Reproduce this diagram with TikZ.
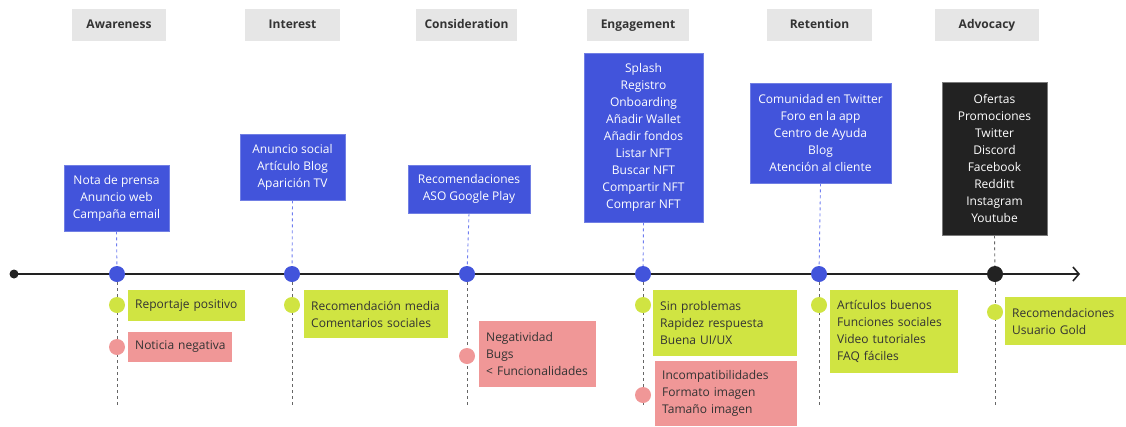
\documentclass[tikz,border=0pt]{standalone}
\usepackage{fontspec}
\setmainfont{Open Sans}
\usetikzlibrary{arrows.meta,backgrounds}
\definecolor{jblue}{HTML}{4254DB}
\definecolor{jblueline}{HTML}{6E7DF0}
\definecolor{jgreen}{HTML}{D0E442}
\definecolor{jred}{HTML}{F09797}
\definecolor{jhead}{HTML}{E6E6E6}
\definecolor{jdark}{HTML}{222222}
\definecolor{jtext}{HTML}{333333}
\definecolor{jgray}{HTML}{666666}
\hyphenpenalty=10000
\exhyphenpenalty=10000
\hfuzz=20pt
\tikzset{
  txt/.style={font=\fontsize{12}{17}\selectfont},
  head/.style={fill=jhead, text=jtext, font=\bfseries\fontsize{12}{14}\selectfont,
    minimum height=32, inner sep=0, text height=9, text depth=3},
  chanbox/.style={fill=jblue, draw=jblue!75!white, line width=0.6, text=white, txt,
    align=center, inner sep=0},
  darkbox/.style={chanbox, fill=jdark, draw=jdark!60!white},
  notebox/.style={txt, text=jtext, align=left, inner xsep=7, inner ysep=0, anchor=west},
  goodbox/.style={notebox, fill=jgreen},
  badbox/.style={notebox, fill=jred},
  stagedot/.style={circle, fill=jblue, minimum size=16, inner sep=0},
  gooddot/.style={circle, fill=jgreen, minimum size=16, inner sep=0},
  baddot/.style={circle, fill=jred, minimum size=16, inner sep=0},
  updash/.style={draw=jblueline, line width=0.9, dash pattern=on 3 off 3},
  downdash/.style={draw=jgray, line width=0.9, dash pattern=on 3 off 3},
}
\begin{document}
\begin{tikzpicture}[x=1pt, y=-1pt]
\useasboundingbox (0,0) rectangle (1126,426);

% stage headers
\node[head, minimum width=94]  (hAw) at (119,25)   {Awareness};
\node[head, minimum width=95]  (hIn) at (292.5,25) {Interest};
\node[head, minimum width=101] (hCo) at (466.5,25) {Consideration};
\node[head, minimum width=102] (hEn) at (638,25)   {Engagement};
\node[head, minimum width=105] (hRe) at (819.5,25) {Retention};
\node[head, minimum width=104] (hAd) at (987,25)   {Advocacy};

% channel boxes
\node[chanbox, minimum width=105, minimum height=66]  (cAw) at (116.5,198) {Nota de prensa\\Anuncio web\\Campaña email};
\node[chanbox, minimum width=105, minimum height=66]  (cIn) at (292.5,167) {Anuncio social\\Artículo Blog\\Aparición TV};
\node[chanbox, minimum width=122, minimum height=48]  (cCo) at (469,189)   {Recomendaciones\\ASO Google Play};
\node[chanbox, minimum width=119, minimum height=169] (cEn) at (643.5,137.5) {Splash\\Registro\\Onboarding\\Añadir Wallet\\Añadir fondos\\Listar NFT\\Buscar NFT\\Compartir NFT\\Comprar NFT};
\node[chanbox, minimum width=141, minimum height=100] (cRe) at (820.5,133) {Comunidad en Twitter\\Foro en la app\\Centro de Ayuda\\Blog\\Atención al cliente};
\node[darkbox, minimum width=105, minimum height=153] (cAd) at (994.5,158.5) {Ofertas\\Promociones\\Twitter\\Discord\\Facebook\\Redditt\\Instagram\\Youtube};

% timeline
\node[circle, fill=jdark, minimum size=9, inner sep=0] (start) at (14,274) {};
\coordinate (finish) at (1080,274);

\node[stagedot] (sAw) at (117,274) {};
\node[stagedot] (sIn) at (292,274) {};
\node[stagedot] (sCo) at (467,274) {};
\node[stagedot] (sEn) at (643,274) {};
\node[stagedot] (sRe) at (819,274) {};
\node[stagedot, fill=jdark] (sAd) at (995,274) {};

% lower ends of the stage guides
\coordinate (eAw) at (117,406);
\coordinate (eIn) at (292,406);
\coordinate (eCo) at (467,406);
\coordinate (eEn) at (643,406);
\coordinate (eRe) at (819,406);
\coordinate (eAd) at (995,406);

% experience notes
\node[gooddot] (gAw) at (117,305) {};
\node[goodbox, text width=103, minimum height=31] (nAw1) at (128,305.5) {Reportaje positivo};
\node[baddot] (bAw) at (117,347) {};
\node[badbox, text width=90, minimum height=30] (nAw2) at (128,347) {\mbox{Noticia negativa}};

\node[gooddot] (gIn) at (292,305) {};
\node[goodbox, text width=130, minimum height=48] (nIn1) at (304,314) {Recomendación media\\Comentarios sociales};

\node[baddot] (bCo) at (467,356) {};
\node[badbox, text width=103, minimum height=66] (nCo1) at (479,354) {Negatividad\\Bugs\\< Funcionalidades};

\node[gooddot] (gEn) at (643,305) {};
\node[goodbox, text width=130, minimum height=66] (nEn1) at (653,323) {Sin problemas\\Rapidez respuesta\\Buena UI/UX};
\node[baddot] (bEn) at (643,395) {};
\node[badbox, text width=128, minimum height=65] (nEn2) at (655,393.5) {Incompatibilidades\\Formato imagen\\Tamaño imagen};

\node[gooddot] (gRe) at (819,305) {};
\node[goodbox, text width=114, minimum height=83] (nRe1) at (830,331.5) {Artículos buenos\\Funciones sociales\\Video tutoriales\\FAQ fáciles};

\node[gooddot] (gAd) at (995,312) {};
\node[goodbox, text width=107, minimum height=48] (nAd1) at (1005,321) {Recomendaciones\\Usuario Gold};

\begin{scope}[on background layer]
  % guides from channel boxes down to the stage dots
  \draw[updash] (cAw.south) -- (sAw);
  \draw[updash] (cIn.south) -- (sIn);
  \draw[updash] (cCo.south) -- (sCo);
  \draw[updash] (cEn.south) -- (sEn);
  \draw[updash] (cRe.south) -- (sRe);
  \draw[downdash] (cAd.south) -- (sAd);
  % guides below the timeline
  \draw[downdash] (sAw) -- (eAw);
  \draw[downdash] (sIn) -- (eIn);
  \draw[downdash] (sCo) -- (eCo);
  \draw[downdash] (sEn) -- (eEn);
  \draw[downdash] (sRe) -- (eRe);
  \draw[downdash] (sAd) -- (eAd);
  % main axis
  \draw[jdark, line width=2, -{Straight Barb[length=6pt, width=14pt, line width=1.6pt]}] (start.center) -- (finish);
\end{scope}
\end{tikzpicture}
\end{document}
